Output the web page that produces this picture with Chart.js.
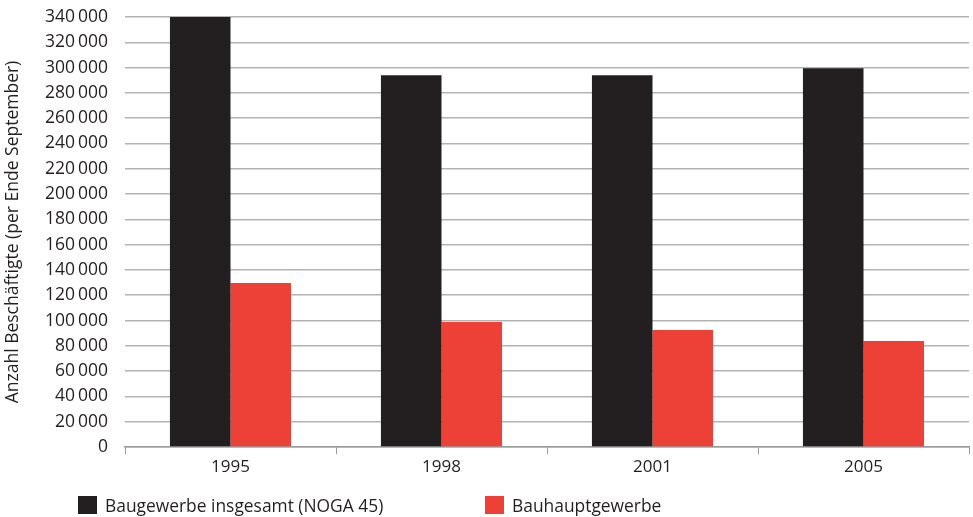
<!DOCTYPE html>
<html>
<head>
<meta charset="utf-8">
<script src="https://cdn.jsdelivr.net/npm/chart.js@4.4.0/dist/chart.umd.min.js"></script>
<style>
  html, body { margin: 0; padding: 0; background: #fff; }
  #wrap { position: relative; width: 973px; height: 517px; }
  #legend { position: absolute; left: 0; top: 0; width: 973px; height: 517px; pointer-events: none;
            font-family: "Open Sans", sans-serif; font-size: 17.4px; color: #231f20; }
  .item { position: absolute; top: 496px; height: 19px; line-height: 19px; white-space: nowrap; }
  .box { position: absolute; left: 0; top: 0; width: 19px; height: 18px; }
  .lbl { position: absolute; left: 27px; top: 0; }
</style>
</head>
<body>
<div id="wrap">
  <canvas id="chart" width="973" height="517"></canvas>
  <div id="legend"></div>
</div>
<script>
// data
const years = ["1995", "1998", "2001", "2005"];
const baugewerbe = [340000, 294000, 294000, 299500];
const bauhaupt = [129700, 98800, 92500, 83800];
const seriesNames = ["Baugewerbe insgesamt (NOGA 45)", "Bauhauptgewerbe"];
const seriesColors = ["#231f20", "#ed4036"];

const fontFamily = "'Open Sans', sans-serif";

function fmt(v) {
  return String(v).replace(/\B(?=(\d{3})+(?!\d))/g, "\u2009");
}

// legend (html)
const legendEl = document.getElementById("legend");
const legendX = [78, 485];
seriesNames.forEach((name, i) => {
  const item = document.createElement("div");
  item.className = "item";
  item.style.left = legendX[i] + "px";
  item.innerHTML = `<span class="box" style="background:${seriesColors[i]}"></span><span class="lbl">${name}</span>`;
  legendEl.appendChild(item);
});

new Chart(document.getElementById("chart"), {
  type: "bar",
  data: {
    labels: years,
    datasets: [
      { label: seriesNames[0], data: baugewerbe, backgroundColor: seriesColors[0] },
      { label: seriesNames[1], data: bauhaupt, backgroundColor: seriesColors[1] },
    ],
  },
  options: {
    responsive: false,
    animation: false,
    layout: { padding: { top: 17, right: 4, bottom: 30, left: 0 } },
    datasets: { bar: { categoryPercentage: 0.574, barPercentage: 1.0 } },
    plugins: { legend: { display: false }, tooltip: { enabled: false } },
    scales: {
      x: {
        grid: { display: true, drawOnChartArea: false, drawTicks: true, tickLength: 7, color: "#9a9a9a", offset: true },
        border: { display: true, color: "#9a9a9a", width: 1.5 },
        ticks: { color: "#231f20", font: { family: fontFamily, size: 17 }, padding: 3 },
        afterFit: (s) => { s.height = 40; s.paddingLeft = 0; s.paddingRight = 0; },
      },
      y: {
        min: 0,
        max: 340000,
        ticks: {
          stepSize: 20000,
          color: "#231f20",
          font: { family: fontFamily, size: 17.5 },
          padding: 17,
          callback: (v) => fmt(v),
        },
        grid: { color: "#b3b3b3", lineWidth: 1.5, drawTicks: false },
        border: { display: false },
        title: {
          display: true,
          text: "Anzahl Beschäftigte (per Ende September)",
          color: "#231f20",
          font: { family: fontFamily, size: 17.5 },
          padding: { top: 3, bottom: 0 },
        },
        afterFit: (s) => { s.width = 125; s.paddingTop = 0; s.paddingBottom = 0; },
      },
    },
  },
});
</script>
</body>
</html>
